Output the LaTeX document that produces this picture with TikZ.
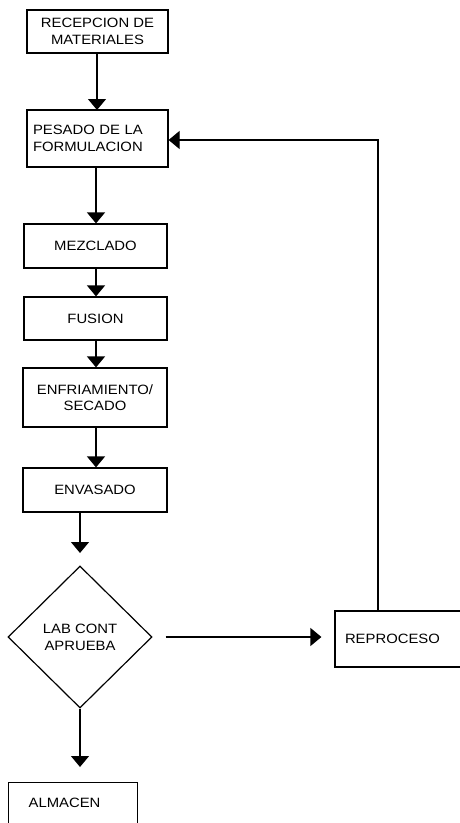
\documentclass[tikz,border=0pt]{standalone}
\usepackage{fontspec}
\setmainfont{Liberation Sans}[FakeStretch=1.1]
\usetikzlibrary{arrows.meta,shapes.geometric}
\begin{document}
\begin{tikzpicture}[x=1pt,y=-1pt,
  box/.style={draw,line width=1.2pt,rectangle,inner sep=0pt,align=center,
    font=\fontsize{13.5}{16.5}\selectfont},
  dec/.style={draw,line width=1.2pt,diamond,inner sep=0pt,align=center,
    minimum width=144pt,minimum height=142pt,
    font=\fontsize{13.5}{16.5}\selectfont},
  flow/.style={line width=1.2pt,-{Triangle[width=18pt,length=11pt]}}]
\useasboundingbox (0,0) rectangle (460,823);
\clip (0,0) rectangle (460,823);
\node[box,minimum width=141pt,minimum height=43pt] (rec) at (97.5,31.5) {RECEPCION DE\\MATERIALES};
\node[box,minimum width=141pt,minimum height=57pt,text width=129pt,inner xsep=6pt,align=left] (pes) at (97.5,138.5) {PESADO DE LA\\FORMULACION};
\node[box,minimum width=143pt,minimum height=44pt] (mez) at (95.5,246) {MEZCLADO};
\node[box,minimum width=143pt,minimum height=43pt] (fus) at (95.5,318.5) {FUSION};
\node[box,minimum width=144pt,minimum height=59pt] (enf) at (95,397.5) {ENFRIAMIENTO/\\SECADO};
\node[box,minimum width=144pt,minimum height=44pt] (env) at (95,490) {ENVASADO};
\node[dec] (lab) at (80,637) {\\[-6pt]LAB CONT\\APRUEBA};
\node[box,minimum width=140pt,minimum height=56pt,text width=120pt,align=left] (rep) at (405,639) {REPROCESO};
\node[box,anchor=north west,text width=89pt,inner xsep=20pt,inner ysep=15pt,
  text height=10pt,text depth=50pt,align=left] (alm) at (8,782) {ALMACEN};
\coordinate (envout) at (80,512);
\coordinate (labin) at (80,553);
\draw[flow] (97,53) -- (97,110);
\draw[flow] (pes.south -| 96,0) -- (mez.north -| 96,0);
\draw[flow] (mez.south -| 96,0) -- (fus.north -| 96,0);
\draw[flow] (fus.south -| 96,0) -- (enf.north -| 96,0);
\draw[flow] (enf.south -| 96,0) -- (env.north -| 96,0);
\draw[flow] (envout) -- (labin);
\draw[flow] (lab.east) ++(13,0) -- ([xshift=-13pt]rep.west |- lab.east);
\draw[flow] (rep.north -| 378,0) -- (378,140) -- (pes.east |- 0,140);
\draw[flow] (lab.south) -- (80,767);
\end{tikzpicture}
\end{document}
